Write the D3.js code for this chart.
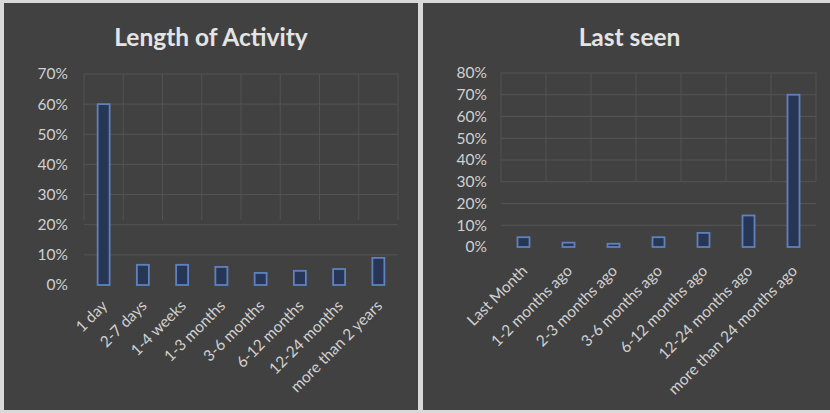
<!DOCTYPE html>
<html>
<head>
<meta charset="utf-8">
<script src="https://cdn.jsdelivr.net/npm/d3@7"></script>
<style>
  body { margin: 0; background: #d9d9d9; }
  svg { display: block; }
</style>
</head>
<body>
<svg id="canvas" width="830" height="413"></svg>
<script>
// chart 1 - length of activity
const activityCats = ['1 day', '2-7 days', '1-4 weeks', '1-3 months', '3-6 months', '6-12 months', '12-24 months', 'more than 2 years'];
const activityVals = [0.60, 0.067, 0.067, 0.06, 0.04, 0.047, 0.053, 0.09];
const activityTicks = [0, 0.1, 0.2, 0.3, 0.4, 0.5, 0.6, 0.7];

// chart 2 - last seen
const seenCats = ['Last Month', '1-2 months ago', '2-3 months ago', '3-6 months ago', '6-12 months ago', '12-24 months ago', 'more than 24 months ago'];
const seenVals = [0.045, 0.02, 0.015, 0.045, 0.065, 0.145, 0.70];
const seenTicks = [0, 0.1, 0.2, 0.3, 0.4, 0.5, 0.6, 0.7, 0.8];

const svg = d3.select('#canvas');
const FONT = 'Lato, "Open Sans", sans-serif';

function drawChart(opt) {
  let g = svg.append('g');

  // panel background
  g.append('rect')
    .attr('x', opt.px).attr('y', opt.py)
    .attr('width', opt.pw).attr('height', opt.ph)
    .attr('fill', '#414141');

  // title
  g.append('text')
    .attr('x', opt.px + opt.pw / 2 + opt.titleDx)
    .attr('y', 46)
    .attr('text-anchor', 'middle')
    .attr('font-family', FONT)
    .attr('font-weight', 'bold')
    .attr('font-size', 24.5)
    .attr('fill', '#e4e4e4')
    .text(opt.title);

  let x = d3.scaleBand()
    .domain(opt.cats)
    .range([opt.x0, opt.x1])
    .paddingInner(0)
    .paddingOuter(0);

  let y = d3.scaleLinear()
    .domain([0, d3.max(opt.ticks)])
    .range([opt.y0, opt.y1]);

  // horizontal grid
  g.selectAll('.hgrid')
    .data(opt.ticks.filter(d => d > 0))
    .enter().append('line')
    .attr('x1', opt.x0).attr('x2', opt.x1)
    .attr('y1', d => y(d)).attr('y2', d => y(d))
    .attr('stroke', '#555555')
    .attr('stroke-width', 1);

  // vertical grid at band edges
  let edges = opt.cats.map(c => x(c)).concat([opt.x1]);
  g.selectAll('.vgrid')
    .data(edges)
    .enter().append('line')
    .attr('x1', d => d).attr('x2', d => d)
    .attr('y1', y(d3.max(opt.ticks))).attr('y2', opt.vgridBottom)
    .attr('stroke', '#525252')
    .attr('stroke-width', 1);

  // y axis labels
  let yAxis = d3.axisLeft(y)
    .tickValues(opt.ticks)
    .tickFormat(d3.format('.0%'))
    .tickSize(0)
    .tickPadding(0);
  let ya = g.append('g')
    .attr('transform', 'translate(' + opt.labelX + ',0)')
    .call(yAxis);
  ya.select('.domain').remove();
  ya.selectAll('text')
    .attr('font-family', FONT)
    .attr('font-size', 15.5)
    .attr('fill', '#d0d0d0');

  // bars
  let bw = opt.barW;
  g.selectAll('.bar')
    .data(opt.vals)
    .enter().append('rect')
    .attr('x', (d, i) => x(opt.cats[i]) + x.bandwidth() / 2 - bw / 2)
    .attr('y', d => y(d))
    .attr('width', bw)
    .attr('height', d => y(0) - y(d))
    .attr('fill', '#283656')
    .attr('stroke', '#5f82bd')
    .attr('stroke-width', 1.8);

  // x axis labels rotated
  let xAxis = d3.axisBottom(x).tickSize(0).tickPadding(0);
  let xa = g.append('g')
    .attr('transform', 'translate(' + opt.labelDx + ',' + (y(0) + opt.labelDy) + ')')
    .call(xAxis);
  xa.select('.domain').remove();
  xa.selectAll('text')
    .attr('font-family', FONT)
    .attr('font-size', 15.5)
    .attr('fill', '#d0d0d0')
    .attr('text-anchor', 'end')
    .attr('dy', '0.35em')
    .attr('transform', 'rotate(-45)');
}

drawChart({
  px: 4, py: 3, pw: 414, ph: 407,
  title: 'Length of Activity', titleDx: 0,
  cats: activityCats, vals: activityVals, ticks: activityTicks,
  x0: 84, x1: 398, y0: 285, y1: 74,
  vgridBottom: 220,
  labelX: 68, barW: 12,
  labelDx: 1, labelDy: 18
});

drawChart({
  px: 423, py: 3, pw: 407, ph: 407,
  title: 'Last seen', titleDx: 3,
  cats: seenCats, vals: seenVals, ticks: seenTicks,
  x0: 501, x1: 816, y0: 247, y1: 73,
  vgridBottom: 182,
  labelX: 487, barW: 12,
  labelDx: 1, labelDy: 21
});
</script>
</body>
</html>
